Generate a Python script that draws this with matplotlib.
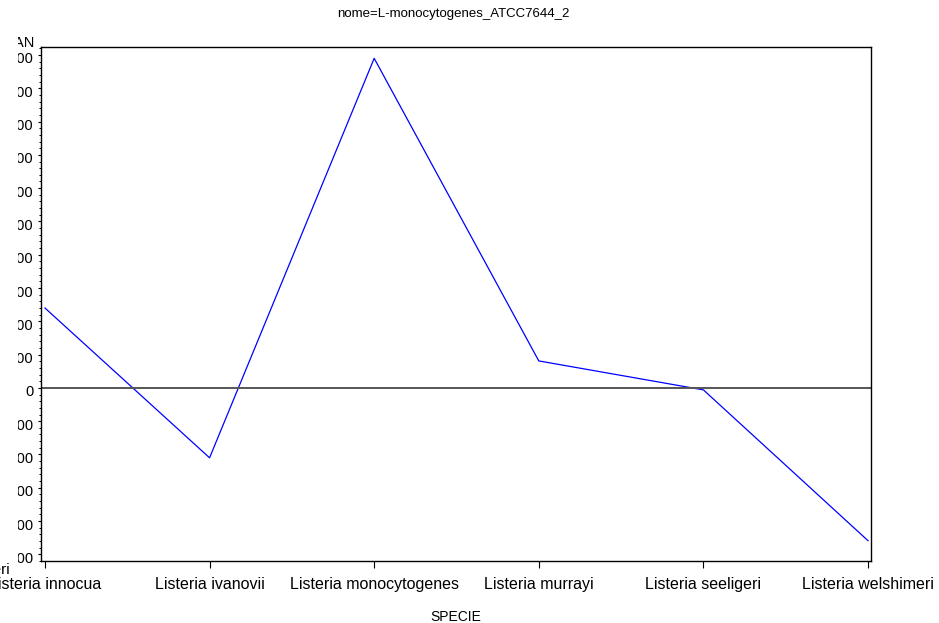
import matplotlib
matplotlib.use("Agg")
import matplotlib.pyplot as plt
from matplotlib.ticker import MultipleLocator, AutoMinorLocator
from matplotlib.transforms import Bbox, ScaledTranslation

species = ['Listeria innocua', 'Listeria ivanovii', 'Listeria monocytogenes',
           'Listeria murrayi', 'Listeria seeligeri', 'Listeria welshimeri']
mean_values = [240, -210, 990, 81, -6, -459]
title_text = 'nome=L-monocytogenes_ATCC7644_2'
x_title = 'SPECIE'
y_title = 'MEAN'

plt.rcParams['font.family'] = ['Liberation Sans', 'DejaVu Sans']

W, H = 939, 623
fig = plt.figure(figsize=(W / 100, H / 100), dpi=100)
ax = fig.add_axes([41 / W, 62 / H, 830 / W, 514 / H])

xs = list(range(len(species)))
ax.plot(xs, mean_values, color='#0000ff', lw=0.9)
ax.axhline(0, color='#555555', lw=1.4)

ax.set_xlim(-0.024, 5.018)
ax.set_ylim(-520, 1024)
ax.set_xticks(xs)
ax.set_xticklabels(species, fontsize=11.5)
ax.yaxis.set_major_locator(MultipleLocator(100))
ax.yaxis.set_minor_locator(AutoMinorLocator(5))

for s in ax.spines.values():
    s.set_color('black')
    s.set_linewidth(1.0)

ax.tick_params(axis='x', direction='out', length=5, width=0.8, pad=6.5)
ax.tick_params(axis='y', which='major', direction='out', length=2.5, width=0.8,
               pad=3, labelsize=10.5)
ax.tick_params(axis='y', which='minor', direction='out', length=1.5, width=0.7)

# labels on the left are cut off like in the original output
clip = Bbox.from_extents(18, 0, W, H)
fig.canvas.draw()
shift = ScaledTranslation(0, -3 / 100, fig.dpi_scale_trans)
for lab in ax.get_yticklabels():
    lab.set_transform(lab.get_transform() + shift)
    lab.set_clip_box(clip)
    lab.set_clip_on(True)

t = fig.text(35 / W, 1 - 43 / H, y_title, ha='right', va='center', fontsize=10.5)
t.set_clip_box(clip)
t.set_clip_on(True)
fig.text(10 / W, 1 - 570 / H, 'Listeri', ha='right', va='center', fontsize=11)

fig.text(453 / W, 1 - 14 / H, title_text, ha='center', va='center', fontsize=9.5)
fig.text(456 / W, 1 - 617 / H, x_title, ha='center', va='center', fontsize=10)

fig.savefig('out.png', dpi=100)
